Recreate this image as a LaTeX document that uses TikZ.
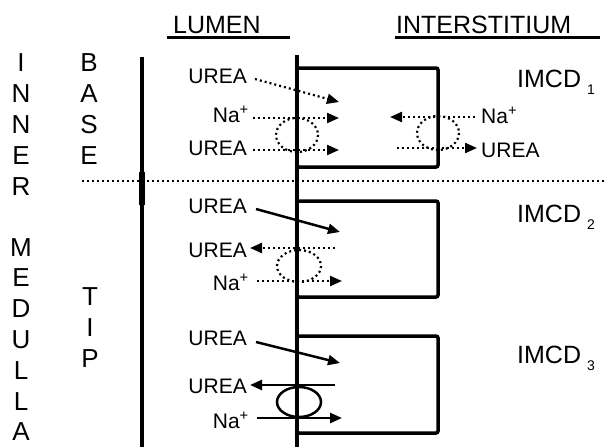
\documentclass[tikz,border=0pt]{standalone}
\usepackage{fontspec}
\setmainfont{Liberation Sans}
\usetikzlibrary{arrows.meta}
\tikzset{
  lbl/.style={font=\fontsize{21}{25}\selectfont, inner sep=0pt, anchor=base east},
  lblr/.style={font=\fontsize{21}{25}\selectfont, inner sep=0pt, anchor=base west},
  hdr/.style={font=\fontsize{25}{30}\selectfont, inner sep=0pt, anchor=base west},
  side/.style={font=\fontsize{26}{31}\selectfont, inner sep=0pt, align=center, anchor=north},
  imcd/.style={font=\fontsize{25}{30}\selectfont, inner sep=0pt, anchor=base west},
  subl/.style={font=\fontsize{14}{17}\selectfont, inner sep=0pt, anchor=base west},
  wall/.style={line width=3.5pt},
  cell/.style={line width=3.5pt, rounded corners=2pt},
  uline/.style={line width=3pt},
  tipd/.style={-{Triangle[length=12pt,width=10pt]}},
  dotarrow/.style={line width=2.2pt, dash pattern=on 2pt off 3pt, tipd},
  solarrow/.style={line width=2.5pt, tipd},
  dotring/.style={line width=2.2pt, dash pattern=on 2pt off 3pt},
  solring/.style={line width=2.5pt},
  sepline/.style={line width=1.5pt, dash pattern=on 1.5pt off 3.5pt}
}
\begin{document}
\begin{tikzpicture}[x=1pt,y=-1pt]
\useasboundingbox (0,0) rectangle (604,447);
% headers
\node[hdr] (lumen) at (173,33) {LUMEN};
\node[hdr] (inter) at (396,33) {INTERSTITIUM};
\draw[uline] (167,37) coordinate (lu1) -- (290,37) coordinate (lu2);
\draw[uline] (395,37) coordinate (iu1) -- (600,37) coordinate (iu2);
% side labels
\node[side] (inner) at (21,53) {I\\N\\N\\E\\R};
\node[side, font=\fontsize{26}{30.8}\selectfont] (medulla) at (21,238) {M\\E\\D\\U\\L\\L\\A};
\node[side] (base) at (89,53) {B\\A\\S\\E};
\node[side] (tip) at (90,287) {T\\I\\P};
% walls
\draw[wall] (142,57) coordinate (lw1) -- (142,447) coordinate (lw2);
\fill (139,172) rectangle (144.5,205);
\draw[wall] (297,55) coordinate (mw1) -- (297,447) coordinate (mw2);
\draw[sepline] (82,181) coordinate (s1) -- (604,181) coordinate (s2);
% cells
\draw[cell] (297,68) rectangle (438,167);
\draw[cell] (297,201) rectangle (438,297);
\draw[cell] (297,336) rectangle (438,433);
\node[imcd] (imcd1) at (517,87) {IMCD};
\node[subl] (sub1) at (587,94) {1};
\node[imcd] (imcd2) at (517,222) {IMCD};
\node[subl] (sub2) at (587,229) {2};
\node[imcd] (imcd3) at (517,363) {IMCD};
\node[subl] (sub3) at (587,370) {3};
% cell 1
\node[lbl] (u11) at (247,83) {UREA};
\node[lbl] (n11) at (249,122) {Na\textsuperscript{+}};
\node[lbl] (u12) at (247,155) {UREA};
\node[lblr] (n12) at (481,123) {Na\textsuperscript{+}};
\node[lblr] (u13) at (481,157) {UREA};
\coordinate (a1s) at (255,79);  \coordinate (a1e) at (339,102);
\coordinate (a2s) at (253,118); \coordinate (a2e) at (339,118);
\coordinate (a3s) at (253,150); \coordinate (a3e) at (339,150);
\coordinate (a4s) at (475,117); \coordinate (a4e) at (390,117);
\coordinate (a5s) at (397,148); \coordinate (a5e) at (477,148);
\draw[dotarrow] (a1s) -- (a1e);
\draw[dotarrow] (a2s) -- (a2e);
\draw[dotarrow] (a3s) -- (a3e);
\draw[dotarrow] (a4s) -- (a4e);
\draw[dotarrow] (a5s) -- (a5e);
\draw[dotring] (297,135) ellipse [x radius=21, y radius=17];
\draw[dotring] (438,133) ellipse [x radius=21, y radius=17];
% cell 2
\node[lbl] (u21) at (247,213) {UREA};
\node[lbl] (u22) at (247,257) {UREA};
\node[lbl] (n21) at (249,290) {Na\textsuperscript{+}};
\coordinate (b1s) at (256,209); \coordinate (b1e) at (340,232);
\coordinate (b2s) at (335,248); \coordinate (b2e) at (250,248);
\coordinate (b3s) at (257,281); \coordinate (b3e) at (342,281);
\draw[solarrow] (b1s) -- (b1e);
\draw[dotarrow] (b2s) -- (b2e);
\draw[dotarrow] (b3s) -- (b3e);
\draw[dotring] (299,266) ellipse [x radius=22, y radius=16];
% cell 3
\node[lbl] (u31) at (247,345) {UREA};
\node[lbl] (u32) at (247,393) {UREA};
\node[lbl] (n31) at (249,428) {Na\textsuperscript{+}};
\coordinate (c1s) at (256,342); \coordinate (c1e) at (340,363);
\coordinate (c2s) at (335,385); \coordinate (c2e) at (250,385);
\coordinate (c3s) at (257,418); \coordinate (c3e) at (342,418);
\draw[solarrow] (c1s) -- (c1e);
\draw[solarrow] (c2s) -- (c2e);
\draw[solarrow] (c3s) -- (c3e);
\draw[solring] (299,402) ellipse [x radius=22, y radius=15];
\end{tikzpicture}
\end{document}
